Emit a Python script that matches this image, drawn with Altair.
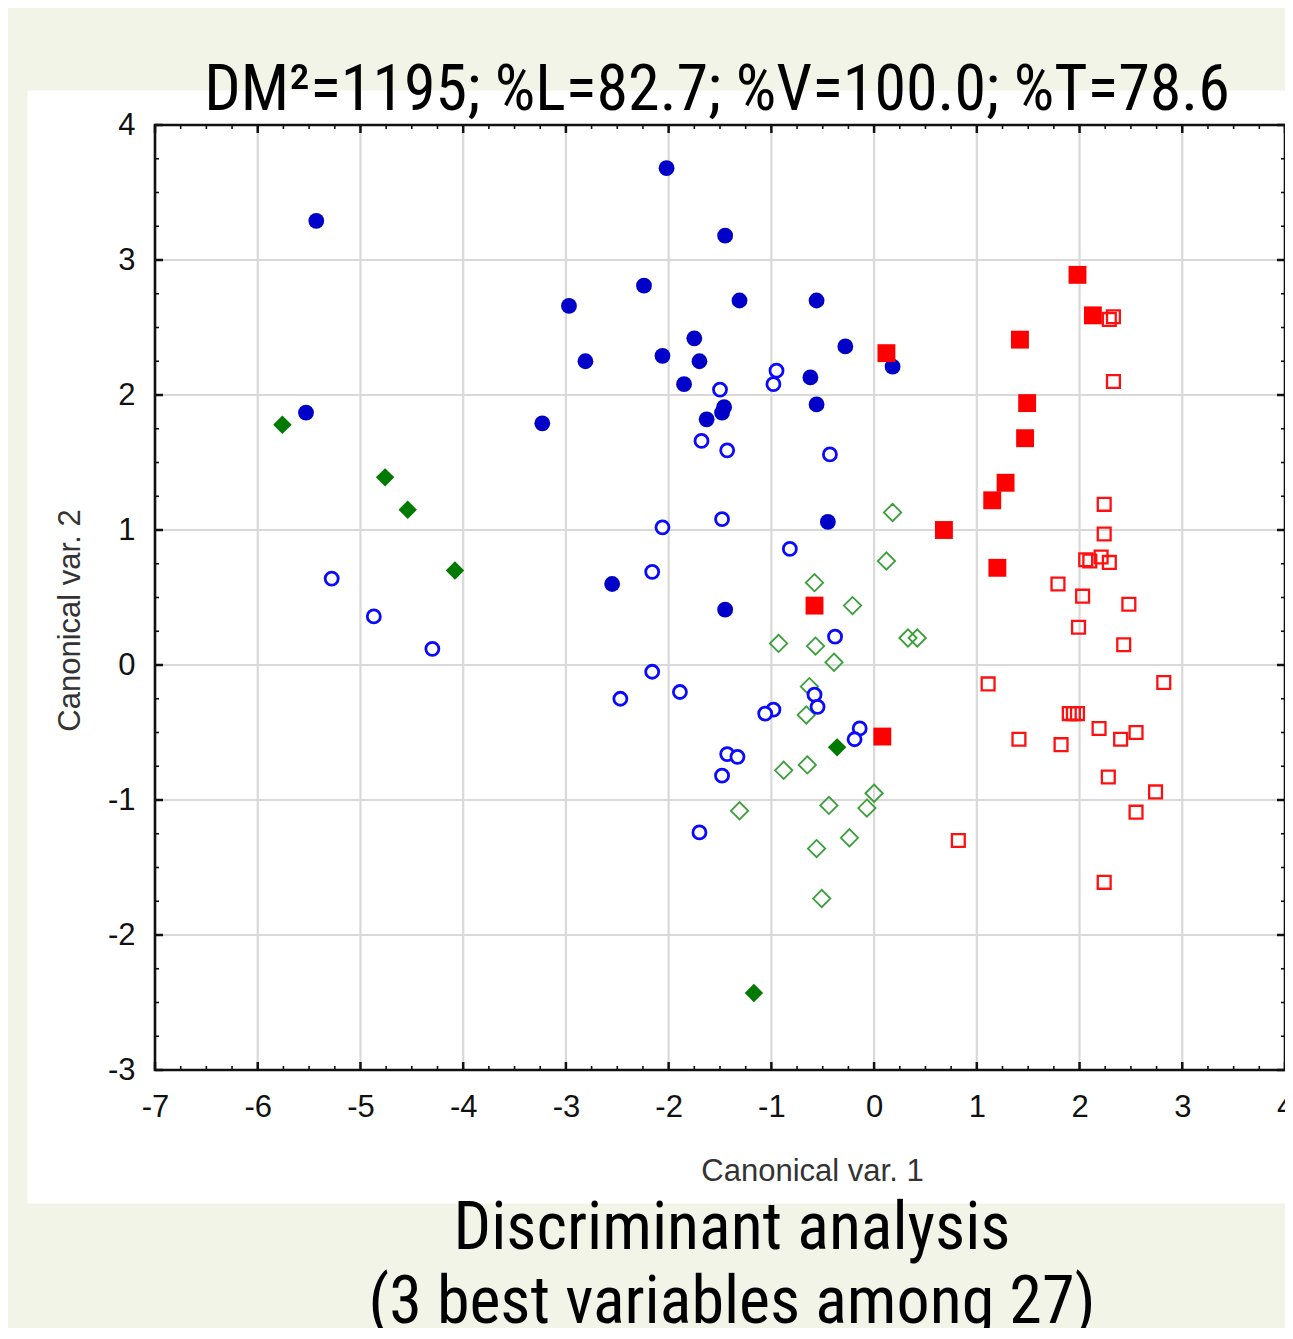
import altair as alt
import pandas as pd
import numpy as np

# ---------------- data ----------------
blue_filled_x = [-5.43, -5.53, -2.02, -1.45, -2.97, -2.24, -1.31, -0.56, -2.81, -2.06, -1.75, -1.70,
                 -1.85, -1.63, -1.48, -1.46, -0.28, -0.62, -0.56, 0.18, -3.23, -2.55, -1.45, -0.45]
blue_filled_y = [3.29, 1.87, 3.68, 3.18, 2.66, 2.81, 2.70, 2.70, 2.25, 2.29, 2.42, 2.25,
                 2.08, 1.82, 1.87, 1.91, 2.36, 2.13, 1.93, 2.21, 1.79, 0.60, 0.41, 1.06]

blue_open_x = [-0.95, -0.98, -1.50, -1.68, -1.43, -0.43, -2.06, -1.48, -0.82, -2.16, -0.38, -2.16,
               -2.47, -1.89, -0.98, -1.06, -0.58, -0.55, -0.14, -0.19, -1.43, -1.33, -1.48, -1.70,
               -5.28, -4.87, -4.30]
blue_open_y = [2.18, 2.08, 2.04, 1.66, 1.59, 1.56, 1.02, 1.08, 0.86, 0.69, 0.21, -0.05,
               -0.25, -0.20, -0.33, -0.36, -0.22, -0.31, -0.47, -0.55, -0.66, -0.68, -0.82, -1.24,
               0.64, 0.36, 0.12]

green_filled_x = [-5.76, -4.76, -4.54, -4.08, -0.36, -1.17]
green_filled_y = [1.78, 1.39, 1.15, 0.70, -0.61, -2.43]

green_open_x = [0.18, 0.12, -0.58, -0.21, -0.93, -0.57, -0.39, -0.63, -0.66, -0.88, -0.65, 0.33,
                0.42, 0.00, -0.07, -0.44, -1.31, -0.24, -0.56, -0.51]
green_open_y = [1.13, 0.77, 0.61, 0.44, 0.16, 0.14, 0.02, -0.16, -0.37, -0.78, -0.74, 0.20,
                0.20, -0.95, -1.06, -1.04, -1.08, -1.28, -1.36, -1.73]

red_filled_x = [1.98, 2.13, 1.42, 1.49, 1.47, 0.12, 1.28, 1.15, 0.68, 1.20, -0.58, 0.08]
red_filled_y = [2.89, 2.59, 2.41, 1.94, 1.68, 2.31, 1.35, 1.22, 1.00, 0.72, 0.44, -0.53]

red_open_x = [2.33, 2.29, 2.33, 2.24, 2.24, 2.06, 2.10, 2.21, 2.29, 1.79, 2.03, 2.48, 1.99, 2.43,
              1.11, 2.82, 1.90, 1.94, 1.98, 1.41, 1.82, 2.19, 2.40, 2.55, 2.28, 2.74, 2.55, 0.82, 2.24]
red_open_y = [2.58, 2.56, 2.10, 1.19, 0.97, 0.78, 0.77, 0.80, 0.76, 0.60, 0.51, 0.45, 0.28, 0.15,
              -0.14, -0.13, -0.36, -0.36, -0.36, -0.55, -0.59, -0.47, -0.55, -0.50, -0.83, -0.94, -1.09,
              -1.30, -1.61]

x_ticks = [-7, -6, -5, -4, -3, -2, -1, 0, 1, 2, 3, 4]
y_ticks = [-3, -2, -1, 0, 1, 2, 3, 4]
x_minor = [v for v in np.arange(-7, 4.001, 0.25) if abs(v - round(v)) > 1e-9]
y_minor = [v for v in np.arange(-3, 4.001, 0.25) if abs(v - round(v)) > 1e-9]

title_text = "DM\u00b2=1195; %L=82.7; %V=100.0; %T=78.6"
caption_1 = "Discriminant analysis"
caption_2 = "(3 best variables among 27)"
x_title = "Canonical var. 1"
y_title = "Canonical var. 2"

# ---------------- layout / style ----------------
W, H = 1130, 945
NARROW = "Roboto Condensed, DejaVu Sans Condensed, sans-serif"
SANS = "Liberation Sans, Arial, sans-serif"

xs = alt.Scale(domain=[-7, 4], nice=False, zero=False)
ys = alt.Scale(domain=[-3, 4], nice=False, zero=False)

x_axis = alt.Axis(values=x_ticks, grid=False, ticks=False, tickSize=0, domain=False, zindex=2,
                  labelFont=SANS, labelFontSize=31, labelColor="#111111", labelPadding=22,
                  labelExpr="'' + datum.value", labelFlush=False, labelOverlap=False,
                  title=x_title, titleFont=SANS, titleFontSize=31, titleFontWeight="normal",
                  titleColor="#333333", titleX=657, titleY=110, titleAlign="center",
                  titleBaseline="alphabetic")
y_axis = alt.Axis(values=y_ticks, grid=False, ticks=False, tickSize=0, domain=False, zindex=2,
                  labelFont=SANS, labelFontSize=31, labelColor="#111111", labelPadding=20,
                  labelExpr="'' + datum.value", labelFlush=False, labelOverlap=False,
                  title=y_title, titleFont=SANS, titleFontSize=31, titleFontWeight="normal",
                  titleColor="#333333", titleX=-76, titleY=495, titleAngle=270,
                  titleAlign="center", titleBaseline="alphabetic")


def X(field):
    return alt.X(field, type="quantitative", scale=xs, axis=x_axis)


def Y(field):
    return alt.Y(field, type="quantitative", scale=ys, axis=y_axis)


one = alt.Data(values=[{"k": 1}])

panel = alt.Chart(one).mark_rect(fill="white", stroke="white").encode(
    x=alt.value(-127), x2=alt.value(1140), y=alt.value(-34), y2=alt.value(1078))

xg = pd.DataFrame({"x": x_ticks})
yg = pd.DataFrame({"y": y_ticks})
xm = pd.DataFrame({"x": x_minor})
ym = pd.DataFrame({"y": y_minor})

grid_x = alt.Chart(xg).mark_rule(color="#d9d9d9", strokeWidth=2.2).encode(
    x=X("x"), y=alt.value(0), y2=alt.value(H))
grid_y = alt.Chart(yg).mark_rule(color="#d9d9d9", strokeWidth=2.2).encode(
    y=Y("y"), x=alt.value(0), x2=alt.value(W))

TK = "#111111"
ticks = [
    alt.Chart(xg).mark_rule(color=TK, strokeWidth=2.5).encode(x=X("x"), y=alt.value(H), y2=alt.value(H - 8)),
    alt.Chart(xg).mark_rule(color=TK, strokeWidth=2.5).encode(x=X("x"), y=alt.value(0), y2=alt.value(8)),
    alt.Chart(xm).mark_rule(color=TK, strokeWidth=1.6).encode(x=X("x"), y=alt.value(H), y2=alt.value(H - 4)),
    alt.Chart(xm).mark_rule(color=TK, strokeWidth=1.6).encode(x=X("x"), y=alt.value(0), y2=alt.value(4)),
    alt.Chart(yg).mark_rule(color=TK, strokeWidth=2.5).encode(y=Y("y"), x=alt.value(0), x2=alt.value(8)),
    alt.Chart(yg).mark_rule(color=TK, strokeWidth=2.5).encode(y=Y("y"), x=alt.value(W), x2=alt.value(W - 8)),
    alt.Chart(ym).mark_rule(color=TK, strokeWidth=1.6).encode(y=Y("y"), x=alt.value(0), x2=alt.value(4)),
    alt.Chart(ym).mark_rule(color=TK, strokeWidth=1.6).encode(y=Y("y"), x=alt.value(W), x2=alt.value(W - 4)),
]

frame = alt.Chart(one).mark_rect(filled=False, stroke="#111111", strokeWidth=2.6).encode(
    x=alt.value(0), x2=alt.value(W), y=alt.value(0), y2=alt.value(H))


def pts(xv, yv, **mk):
    df = pd.DataFrame({"x": xv, "y": yv})
    return alt.Chart(df).mark_point(opacity=1, **mk).encode(x=X("x"), y=Y("y"))


p_green_open = pts(green_open_x, green_open_y, shape="diamond", filled=False, size=300,
                   strokeWidth=1.8, color="#3a9e3a")
p_red_open = pts(red_open_x, red_open_y, shape="square", filled=False, size=165,
                 strokeWidth=2.3, color="#ff1010")
p_blue_open = pts(blue_open_x, blue_open_y, shape="circle", filled=True, size=170,
                  fill="white", stroke="#0a0aff", strokeWidth=2.8)
p_blue_filled = pts(blue_filled_x, blue_filled_y, shape="circle", filled=True, size=250,
                    color="#0000c8")
p_green_filled = pts(green_filled_x, green_filled_y, shape="diamond", filled=True, size=340,
                     color="#007a00")
p_red_filled = pts(red_filled_x, red_filled_y, shape="square", filled=True, size=320,
                   color="#ff0000")

title_mark = alt.Chart(one).mark_text(font=NARROW, fontSize=64, color="black", align="center",
                                      baseline="alphabetic").encode(
    x=alt.value(562), y=alt.value(-15), text=alt.value(title_text))
cap1 = alt.Chart(one).mark_text(font=NARROW, fontSize=66, color="black", align="center",
                                baseline="alphabetic").encode(
    x=alt.value(577), y=alt.value(1124), text=alt.value(caption_1))
cap2 = alt.Chart(one).mark_text(font=NARROW, fontSize=66, color="black", align="center",
                                baseline="alphabetic").encode(
    x=alt.value(577), y=alt.value(1198), text=alt.value(caption_2))

chart = alt.layer(
    panel, grid_x, grid_y, *ticks, frame,
    p_green_open, p_red_open, p_blue_open, p_blue_filled, p_green_filled, p_red_filled,
    title_mark, cap1, cap2,
).properties(
    width=W, height=H, background="#f3f4e8",
    autosize=alt.AutoSizeParams(type="none"),
    padding={"left": 147, "top": 117, "right": 0, "bottom": 258},
).configure_view(stroke="transparent")

chart.save("out.html", embed_options={"renderer": "svg", "actions": False})
